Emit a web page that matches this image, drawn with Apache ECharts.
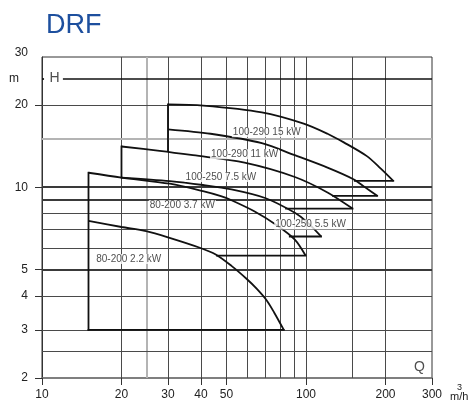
<!DOCTYPE html>
<html><head><meta charset="utf-8">
<script src="https://cdn.jsdelivr.net/npm/echarts@6/dist/echarts.min.js"></script>
<style>html,body{margin:0;padding:0;background:#fff}#c{width:470px;height:403px}</style>
</head><body><div id="c"></div>
<script>
// ---- axis ticks / gridlines ----
const xTickValues = [10, 20, 30, 40, 50, 100, 200, 300];
const yTickValues = [2, 3, 4, 5, 10, 20, 25, 30];
const xGrid = [20, 30, 40, 50, 60, 70, 80, 90, 100, 150, 200];
const xGridLight = [25];
const yGrid = [2.5, 3, 4, 6, 7, 8, 20];
const yGridHeavy = [5, 9, 10];
const yGridLight = [15];
const hLineLevel = 25;

// ---- pump curves [Q m3/h, H m] (max impeller curves) ----
const curve15kW = [[30,20.1],[40.8,19.9],[68,18.8],[98,17.1],[120.6,15.7],[139,14.6],[170,13.0],[192,11.7],[214,10.55]];
const curve11kW = [[30,16.3],[43.5,15.7],[68,14.5],[90.7,13.1],[120.6,11.8],[151.2,10.7],[166.5,10.03],[186,9.3]];
const curve7_5kW = [[20,14.1],[27.9,13.6],[37.3,13.1],[58.5,12.3],[90.7,10.9],[120.6,9.57],[150,8.35]];
const curve5_5kW = [[20,10.85],[30.5,10.53],[40.7,10.19],[52.2,9.82],[70,9.13],[90.7,8.06],[101,7.45],[114,6.6]];
const curve3_7kW = [[15,11.3],[20,10.85],[30.5,10.3],[40.7,9.68],[47.6,9.28],[52.2,8.96],[63.9,8.15],[77.5,7.26],[90.7,6.43],[99.6,5.62]];
const curve2_2kW = [[15,7.53],[20,7.15],[24.8,6.9],[30,6.55],[39.6,6.0],[45.5,5.67],[52.2,5.15],[59.5,4.62],[65,4.25],[71.1,3.84],[75.8,3.47],[82.4,3.0]];
// ---- minimum-flow verticals and lower limit lines ----
const minFlow80_200 = [[15,3],[15,11.3]];
const minFlow100_250 = [[20,10.85],[20,14.1]];
const minFlow100_290 = [[30,13.55],[30,20.1]];
const base15kW = [[214,10.55],[153,10.55]];
const base11kW = [[186,9.3],[126.5,9.3]];
const base7_5kW = [[150,8.35],[84,8.35]];
const base5_5kW = [[114,6.6],[86.8,6.6]];
const base3_7kW = [[99.6,5.62],[46,5.62]];
const base2_2kW = [[82.4,3],[15,3]];
const curveNames = ['100-290 15 kW','100-290 11 kW','100-250 7.5 kW','100-250 5.5 kW','80-200 3.7 kW','80-200 2.2 kW'];

const curves = [curve15kW, curve11kW, curve7_5kW, curve5_5kW, curve3_7kW, curve2_2kW];
const straights = [minFlow80_200, minFlow100_250, minFlow100_290, base15kW, base11kW, base7_5kW, base5_5kW, base3_7kW, base2_2kW];
// label anchors (data coordinates), one per curve
const labelAnchors = [[71,15.9],[58.5,13.2],[47.6,10.9],[104,7.3],[34,8.6],[21.3,5.46]];

const FONT = 'Liberation Sans, Arial, sans-serif';
const chart = echarts.init(document.getElementById('c'), null, {renderer:'canvas'});

function vLines(vals, style){ return vals.map(v => ({xAxis: v, lineStyle: style})); }
function hLines(vals, style){ return vals.map(v => ({yAxis: v, lineStyle: style})); }

const gridMarks = [].concat(
  vLines(xGrid, {color:'#4a4a4a', width:1, type:'solid'}),
  vLines(xGridLight, {color:'#b4b4b4', width:2, type:'solid'}),
  hLines(yGrid, {color:'#4a4a4a', width:1, type:'solid'}),
  hLines(yGridLight, {color:'#b4b4b4', width:2, type:'solid'}),
  hLines(yGridHeavy, {color:'#3a3a3a', width:2, type:'solid'})
);
const hSegments = [
  [{coord:[10, hLineLevel]}, {coord:[10.18, hLineLevel]}],
  [{coord:[12.0, hLineLevel]}, {coord:[300, hLineLevel]}]
];

const series = [{
  type:'line', data:[], silent:true, z:1,
  markLine:{ silent:true, symbol:['none','none'], label:{show:false}, animation:false,
    data: gridMarks.concat(hSegments.map(s => [
      Object.assign({lineStyle:{color:'#111', width:1.7, type:'solid'}}, s[0]), s[1]
    ]))
  }
}];
curves.forEach((c, i) => {
  series.push({
    type:'line', name: curveNames[i], data: c, symbol:'none', smooth:0.3, silent:true, z:5,
    lineStyle:{color:'#111', width:1.8}, clip:false, animation:false
  });
});
straights.forEach(s => {
  series.push({
    type:'line', data: s, symbol:'none', smooth:false, silent:true, z:5,
    lineStyle:{color:'#111', width:1.8, cap:'square'}, clip:false, animation:false
  });
});
series.push({
  type:'scatter', symbolSize:0, silent:true, z:6, animation:false,
  data: curveNames.map((n, i) => ({name:n, value: labelAnchors[i]})),
  label:{show:true, position:'inside', formatter: p => p.name, color:'#222', fontSize:10, fontFamily:FONT,
    backgroundColor:'#fff', padding:[0,1]}
});
series.push({
  type:'scatter', symbolSize:0, silent:true, z:6, animation:false,
  data: [{name:'H', value:[11.15, hLineLevel]}, {name:'Q', value:[269, 2.2]}],
  label:{show:true, position:'inside', formatter: p => p.name, color:'#222', fontSize:14, fontFamily:FONT}
});

chart.setOption({
  animation:false,
  backgroundColor:'#fff',
  title:{ text:'DRF', left:46, top:12, padding:0,
    textStyle:{color:'#1d4f9e', fontSize:27, fontWeight:'normal', fontFamily:FONT} },
  grid:{ left:42, right:38, top:57, bottom:25, show:true, borderColor:'#333', borderWidth:1, containLabel:false },
  xAxis:{ type:'log', logBase:10, min:10, max:300,
    axisLine:{show:true, lineStyle:{color:'#777', width:1.5}},
    axisTick:{show:true, length:7, customValues: xTickValues, lineStyle:{color:'#333'}},
    axisLabel:{customValues: xTickValues, margin:11, color:'#222', fontSize:12, fontFamily:FONT},
    splitLine:{show:false}, minorSplitLine:{show:false}
  },
  yAxis:{ type:'log', logBase:10, min:2, max:30,
    axisLine:{show:true, lineStyle:{color:'#333', width:1}},
    axisTick:{show:true, length:7, customValues:[2,3,4,5,10,20], lineStyle:{color:'#333'}},
    axisLabel:{customValues: yTickValues, margin:14, color:'#222', fontSize:12, fontFamily:FONT,
      formatter: v => (Math.abs(v - 25) < 1e-6 ? '{m|m}' : (Math.abs(v - 30) < 1e-6 ? '{t|30}' : String(v))),
      rich:{m:{fontSize:12, color:'#222', fontFamily:FONT, padding:[0,9,0,0]},
            t:{fontSize:12, color:'#222', fontFamily:FONT, padding:[0,0,8,0]}}},
    splitLine:{show:false}, minorSplitLine:{show:false}
  },
  graphic:[
    {type:'text', left:457, top:383, style:{text:'3', fontSize:9, fill:'#222', fontFamily:FONT}},
    {type:'text', left:450, top:391, style:{text:'m/h', fontSize:11, fill:'#222', fontFamily:FONT}}
  ],
  series: series
});
</script></body></html>
